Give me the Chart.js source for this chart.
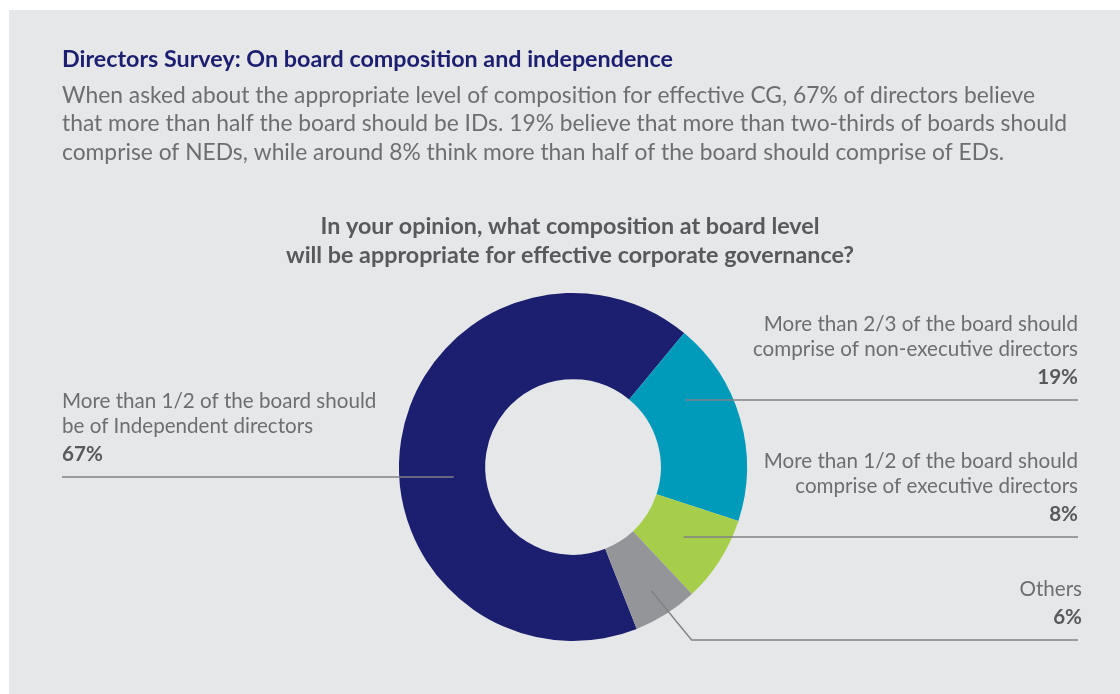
<!DOCTYPE html>
<html>
<head>
<meta charset="utf-8">
<title>Directors Survey: On board composition and independence</title>
<script src="https://cdn.jsdelivr.net/npm/chart.js@4.4.1/dist/chart.umd.min.js"></script>
<style>
  html, body { margin: 0; padding: 0; background: #fff; overflow: hidden; }
  #panel { position: absolute; left: 9px; top: 10px; right: 0; bottom: 0; background: #e6e7e8; }
  #chart { position: absolute; left: 0; top: 0; }
</style>
</head>
<body>
<div id="panel"></div>
<canvas id="chart" width="1120" height="694"></canvas>
<script>
// survey answers, in the order the ring is drawn
const categories = [
  'More than 1/2 of the board should be of Independent directors',
  'More than 2/3 of the board should comprise of non-executive directors',
  'More than 1/2 of the board should comprise of executive directors',
  'Others'
];
const labelLines = [
  ['More than 1/2 of the board should', 'be of Independent directors'],
  ['More than 2/3 of the board should', 'comprise of non-executive directors'],
  ['More than 1/2 of the board should', 'comprise of executive directors'],
  ['Others']
];
const shares = [67, 19, 8, 6];
const sliceColors = ['#1c1f70', '#009bba', '#a6ce4a', '#939598'];

const heading = 'Directors Survey: On board composition and independence';
const intro = [
  'When asked about the appropriate level of composition for effective CG, 67% of directors believe',
  'that more than half the board should be IDs. 19% believe that more than two-thirds of boards should',
  'comprise of NEDs, while around 8% think more than half of the board should comprise of EDs.'
];
const question = [
  'In your opinion, what composition at board level',
  'will be appropriate for effective corporate governance?'
];

const FONT = 'Lato, "Open Sans", sans-serif';
const TEXT = '#6d6e71';
const DARK = '#58595b';
const RULE = '#808285';

// callout placement: rule line height and how deep into the ring it starts
const callouts = [
  { side: 'left', lineY: 477, reach: 0.37 },
  { side: 'right', lineY: 400, reach: 0.5 },
  { side: 'right', lineY: 537, reach: 0.5 },
  { side: 'right', lineY: 640, reach: 0.68, elbow: true }
];
const LEFT_X = 62;
const RIGHT_X = 1078;

const textPlugin = {
  id: 'surveyText',
  beforeDraw(chart) {
    const ctx = chart.ctx;
    ctx.save();
    ctx.textBaseline = 'alphabetic';

    ctx.fillStyle = '#1c1f70';
    ctx.font = 'bold 23.3px ' + FONT;
    ctx.textAlign = 'left';
    ctx.fillText(heading, LEFT_X, 66.5);

    ctx.fillStyle = TEXT;
    ctx.font = '22.8px ' + FONT;
    intro.forEach((line, i) => ctx.fillText(line, LEFT_X, 102.5 + i * 28.5));

    ctx.fillStyle = DARK;
    ctx.font = 'bold 23.3px ' + FONT;
    ctx.textAlign = 'center';
    question.forEach((line, i) => ctx.fillText(line, 570, 234 + i * 29));
    ctx.restore();
  },
  afterDatasetsDraw(chart) {
    const ctx = chart.ctx;
    const arcs = chart.getDatasetMeta(0).data;
    ctx.save();
    ctx.strokeStyle = RULE;
    ctx.lineWidth = 1.4;

    arcs.forEach((arc, i) => {
      const c = callouts[i];
      const { x, y, startAngle, endAngle, innerRadius, outerRadius } = arc.getProps(
        ['x', 'y', 'startAngle', 'endAngle', 'innerRadius', 'outerRadius'], true);
      const r = innerRadius + c.reach * (outerRadius - innerRadius);

      ctx.beginPath();
      if (c.elbow) {
        const mid = (startAngle + endAngle) / 2;
        const sx = x + r * Math.cos(mid);
        const sy = y + r * Math.sin(mid);
        ctx.moveTo(sx, sy);
        ctx.lineTo(sx + (c.lineY - sy) * 0.82, c.lineY);
        ctx.lineTo(RIGHT_X, c.lineY);
      } else {
        const dy = c.lineY - y;
        const dx = Math.sqrt(Math.max(r * r - dy * dy, 0));
        if (c.side === 'left') {
          ctx.moveTo(LEFT_X, c.lineY);
          ctx.lineTo(x - dx, c.lineY);
        } else {
          ctx.moveTo(x + dx, c.lineY);
          ctx.lineTo(RIGHT_X, c.lineY);
        }
      }
      ctx.stroke();

      // label text sits above the rule, percentage last
      const tx = c.side === 'left' ? LEFT_X : (c.elbow ? RIGHT_X + 4 : RIGHT_X);
      ctx.textAlign = c.side === 'left' ? 'left' : 'right';
      const pctY = c.lineY - 16;
      ctx.fillStyle = DARK;
      ctx.font = 'bold 20.6px ' + FONT;
      ctx.fillText(shares[i] + '%', tx, pctY);
      ctx.fillStyle = TEXT;
      ctx.font = '20.6px ' + FONT;
      const lines = labelLines[i];
      lines.forEach((line, k) => {
        const up = lines.length - 1 - k;
        ctx.fillText(line, tx, pctY - 28 - up * 25);
      });
    });
    ctx.restore();
  }
};

new Chart(document.getElementById('chart'), {
  type: 'doughnut',
  data: {
    labels: categories,
    datasets: [{
      data: shares,
      backgroundColor: sliceColors,
      borderWidth: 0,
      hoverOffset: 0
    }]
  },
  options: {
    responsive: false,
    devicePixelRatio: 1,
    animation: false,
    rotation: 158.5,
    cutout: '50.5%',
    layout: { padding: { left: 399, right: 373, top: 293, bottom: 53 } },
    plugins: {
      legend: { display: false },
      tooltip: { enabled: false },
      title: { display: false }
    }
  },
  plugins: [textPlugin]
});
</script>
</body>
</html>
